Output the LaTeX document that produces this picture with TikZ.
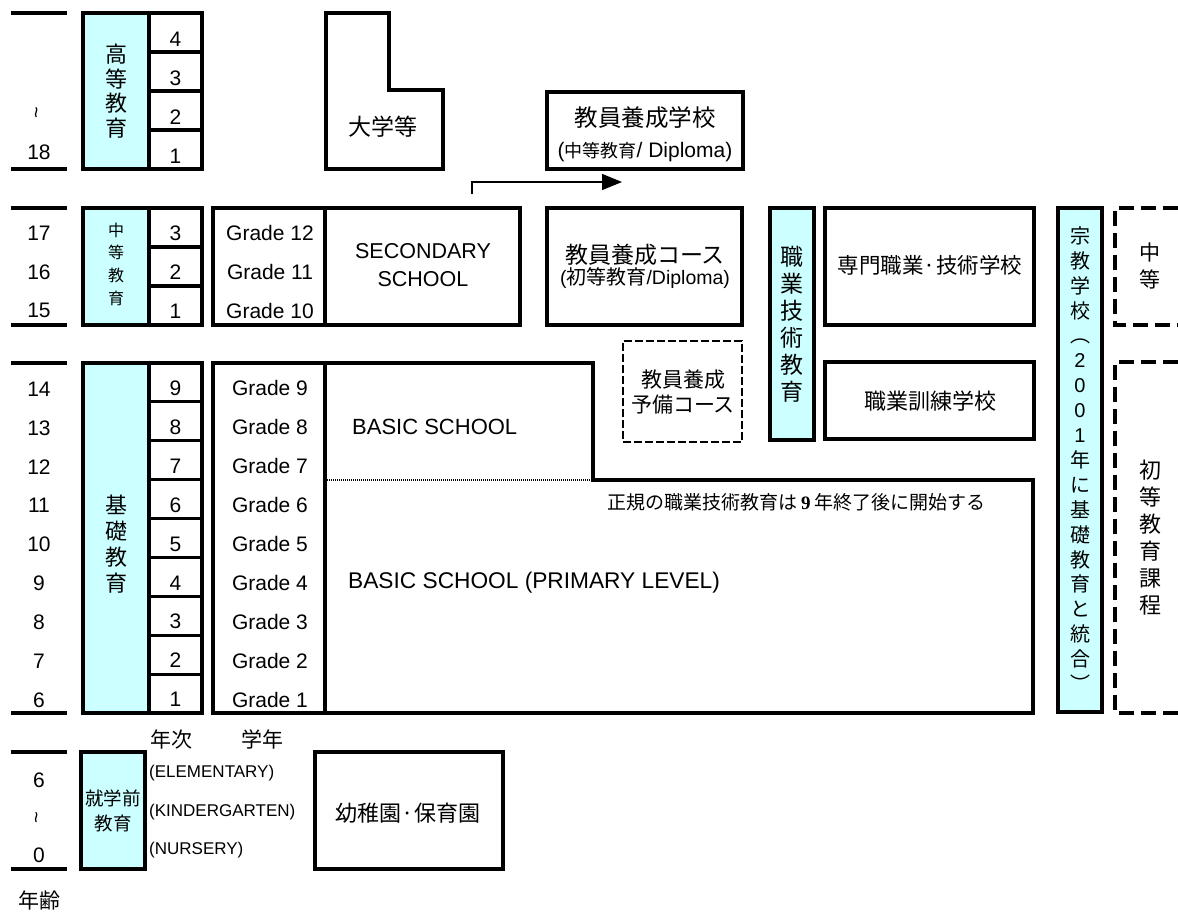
\documentclass[tikz,border=0pt]{standalone}
\usepackage{fontspec}
\setmainfont{Liberation Sans}
\newfontfamily\jp{Noto Sans CJK JP}
\newfontfamily\serifnine{Liberation Serif}
\usetikzlibrary{arrows.meta}
\definecolor{cy}{HTML}{CCFFFF}
\tikzset{
  bx/.style={draw, line width=3.2pt, inner sep=0pt, outer sep=0pt, anchor=north west},
  cyanbx/.style={bx, fill=cy},
  dashbx/.style={bx, line width=2.6pt, dash pattern=on 8pt off 3pt},
  ageline/.style={line width=3.4pt},
  bracket/.style={line width=4.5pt, dash pattern=on 15pt off 7pt},
  t/.style={inner sep=0pt, font=\fontsize{21}{25}\selectfont},
  tsm/.style={inner sep=0pt, font=\fontsize{17}{20}\selectfont},
  vt/.style={inner sep=0pt, align=center, font=\jp\fontsize{#1}{#1}\selectfont},
  tilde/.style={inner sep=0pt, rotate=90, font=\fontsize{20}{20}\selectfont},
}
\newcommand\mkbox[6][bx]{\node[#1, minimum width={((#4)-(#2))*1pt}, minimum height={((#5)-(#3))*1pt}] (#6) at (#2,#3) {};}
\begin{document}
\begin{tikzpicture}[x=1pt,y=-1pt]
\useasboundingbox (0,0) rectangle (1178,918);

% ---------- age column ----------
\foreach \yy in {13,169,208,325,363,713,752,869} \draw[ageline] (11,\yy) -- (67,\yy);
\node[tilde] (atilA) at (39,113) {\textasciitilde};
\node[t] (a18) at (39,152) {18};
\node[t] (a17) at (39,233) {17};
\node[t] (a16) at (39,272) {16};
\node[t] (a15) at (39,310) {15};
\foreach \a [count=\i from 0] in {14,13,...,6} \node[t] (ab\a) at (39,389+38.9*\i) {\a};
\node[t] (p6) at (39,780) {6};
\node[tilde] (atilB) at (39,818) {\textasciitilde};
\node[t] (p0) at (39,855) {0};
\node[t] (nenrei) at (39,900) {\jp 年齢};

% ---------- higher education ----------
\mkbox[cyanbx]{83}{13}{149}{169}{hicy}
\node[vt={22}, font=\jp\fontsize{22}{24.5}\selectfont] (hitxt) at (116,91) {高\\等\\教\\育};
\foreach \n [count=\i from 0] in {4,3,2,1} {
  \mkbox{149}{13+39*\i}{202}{52+39*\i}{hic\n}
  \node[t] (hin\n) at (175.5,39.5+39*\i) {\n};
}
\draw[line width=3.2pt] (326,13) -- (389,13) -- (389,90) -- (443,90) -- (443,169) -- (326,169) -- cycle;
\node[inner sep=0pt, font=\jp\fontsize{23}{23}\selectfont] (univ) at (383,127) {大学等};
\mkbox{547}{92}{743}{169}{tcs}
\node[inner sep=0pt, font=\jp\fontsize{23.5}{23.5}\selectfont] (tcs1) at (645,118) {教員養成学校};
\node[inner sep=0pt, font=\fontsize{21}{21}\selectfont] (tcs2) at (645,152) {({\jp\fontsize{18}{18}\selectfont 中等教育}/ Diploma)};
\coordinate (arS) at (472,194);
\coordinate (arC) at (472,182);
\coordinate (arE) at (622,182);
\draw[line width=1.4pt, -{Triangle[length=20pt,width=16pt]}] (arS) -- (arC) -- (arE);

% ---------- secondary ----------
\mkbox[cyanbx]{83}{208}{149}{325}{secy}
\node[vt={16}, font=\jp\fontsize{16}{22.7}\selectfont] (setxt) at (116,264) {中\\等\\教\\育};
\foreach \n [count=\i from 0] in {3,2,1} {
  \mkbox{149}{208+39*\i}{202}{247+39*\i}{sec\n}
  \node[t] (sen\n) at (175.5,233+39*\i) {\n};
}
\mkbox{213}{208}{325}{325}{segr}
\foreach \g [count=\i from 0] in {12,11,10} \node[t] (gr\g) at (270,233+39*\i) {Grade \g};
\mkbox{325}{208}{520}{325}{sesch}
\node[t, align=center, font=\fontsize{21.5}{28}\selectfont] (seschtxt) at (423,265) {SECONDARY\\SCHOOL};
\mkbox{547}{208}{742}{325}{tcp}
\node[inner sep=0pt, font=\jp\fontsize{23}{23}\selectfont] (tcp1) at (645,255) {教員養成コース};
\node[inner sep=0pt, font=\fontsize{19.5}{19.5}\selectfont] (tcp2) at (645,278) {({\jp\fontsize{20}{20}\selectfont 初等教育}/Diploma)};
\mkbox[cyanbx]{770}{208}{814}{440}{voc}
\node[vt={23}, font=\jp\fontsize{23}{27}\selectfont] (voctxt) at (792,324) {職\\業\\技\\術\\教\\育};
\mkbox{825}{208}{1034}{325}{spec}
\node[inner sep=0pt, font=\jp\fontsize{21.5}{21.5}\selectfont] (spectxt) at (930,265) {専門職業·技術学校};
\mkbox{825}{362}{1034}{439}{train}
\node[inner sep=0pt, font=\jp\fontsize{22}{22}\selectfont] (traintxt) at (930,401) {職業訓練学校};
\mkbox[dashbx]{623}{341}{742}{442}{prep}
\node[inner sep=0pt, align=center, font=\jp\fontsize{21}{25}\selectfont] (preptxt) at (683,392) {教員養成\\予備コース};

% ---------- religious school ----------
\mkbox[cyanbx]{1058}{208}{1102}{712}{rel}
\node[inner sep=0pt, align=center, font=\jp\fontsize{20}{24.9}\selectfont] (reltxt) at (1080,459)
  {宗\\教\\学\\校\\︵\\{\rmfamily 2}\\{\rmfamily 0}\\{\rmfamily 0}\\{\rmfamily 1}\\年\\に\\基\\礎\\教\\育\\と\\統\\合\\︶};

% ---------- right brackets ----------
\coordinate (bA1) at (1178,208);
\coordinate (bA2) at (1115,208);
\coordinate (bA3) at (1115,325);
\coordinate (bA4) at (1178,325);
\draw[bracket] (bA1) -- (bA2) -- (bA3) -- (bA4);
\coordinate (bB1) at (1178,362);
\coordinate (bB2) at (1115,362);
\coordinate (bB3) at (1115,713);
\coordinate (bB4) at (1178,713);
\draw[bracket] (bB1) -- (bB2) -- (bB3) -- (bB4);
\node[vt={21}, font=\jp\fontsize{21}{27}\selectfont] (chuto) at (1150,266) {中\\等};
\node[vt={22}, font=\jp\fontsize{22}{27}\selectfont] (shoto) at (1150,538) {初\\等\\教\\育\\課\\程};

% ---------- basic education ----------
\mkbox[cyanbx]{83}{363}{149}{713}{bacy}
\node[vt={22}, font=\jp\fontsize{22}{26}\selectfont] (batxt) at (116,544) {基\\礎\\教\\育};
\foreach \n [count=\i from 0] in {9,8,...,1} {
  \mkbox{149}{363+38.889*\i}{202}{363+38.889*(\i+1)}{bac\n}
  \node[t] (ban\n) at (175.5,388.4+38.889*\i) {\n};
}
\mkbox{213}{363}{325}{713}{bagr}
\foreach \g [count=\i from 0] in {9,8,...,1} \node[t] (bgr\g) at (270,388.4+38.889*\i) {Grade \g};
\draw[line width=3.2pt] (325,363) -- (593,363) -- (593,480) -- (1033,480) -- (1033,713) -- (325,713) -- cycle;
\draw[line width=1.6pt, dash pattern=on 1pt off 1pt] (327,480) -- (592,480);
\node[t, anchor=west, font=\fontsize{22}{22}\selectfont] (bsch) at (352,427) {BASIC SCHOOL};
\node[t, anchor=west, font=\fontsize{22.7}{22.7}\selectfont] (bprim) at (348,583) {BASIC SCHOOL (PRIMARY LEVEL)};
\node[inner sep=0pt, anchor=west, font=\fontsize{19}{19}\selectfont] (note) at (607,502)
  {{\jp 正規の職業技術教育は}\hspace{4pt}{\serifnine\bfseries 9}\hspace{4pt}{\jp 年終了後に開始する}};

% ---------- pre-school ----------
\node[t] (nenji) at (171,739) {\jp 年次};
\node[t] (gakunen) at (262,739) {\jp 学年};
\mkbox[cyanbx]{81}{752}{145}{869}{precy}
\node[inner sep=0pt, align=center, font=\jp\fontsize{18.5}{25}\selectfont] (pretxt) at (113,811) {就学前\\教育};
\node[tsm, anchor=west] (elem) at (149,773) {(ELEMENTARY)};
\node[tsm, anchor=west] (kind) at (149,812) {(KINDERGARTEN)};
\node[tsm, anchor=west] (nurs) at (149,850) {(NURSERY)};
\mkbox{315}{752}{503}{869}{kg}
\node[inner sep=0pt, font=\jp\fontsize{22}{22}\selectfont] (kgtxt) at (408,813) {幼稚園·保育園};
\end{tikzpicture}
\end{document}
